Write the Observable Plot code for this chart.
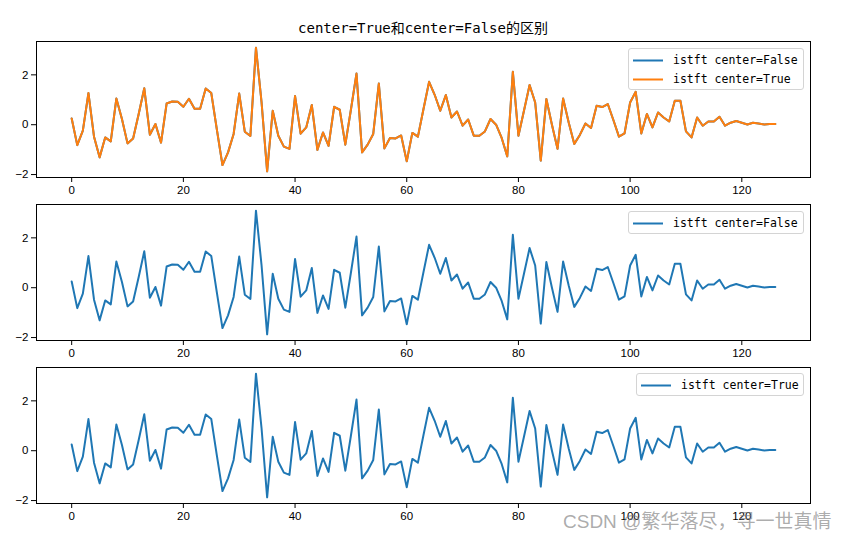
<!DOCTYPE html>
<html>
<head>
<meta charset="utf-8">
<script src="https://cdn.jsdelivr.net/npm/d3@7"></script>
<script src="https://cdn.jsdelivr.net/npm/@observablehq/plot@0.6"></script>
<style>
  body { margin: 0; background: #fff; }
  #fig { position: relative; width: 853px; height: 540px; overflow: hidden; background: #fff; }
  #fig > svg { position: absolute; left: 0; }
  .title { position: absolute; left: 0; width: 846px; top: 17px; text-align: center;
           font-family: "DejaVu Sans Mono", "Noto Sans CJK SC", monospace; font-size: 14px; color: #000; }
  .legend { position: absolute; background: rgba(255,255,255,0.85); border: 1px solid #d4d4d4; border-radius: 3px; box-sizing: border-box; }
  .legend .row { position: absolute; left: 0; height: 19px; width: 100%; }
  .legend .row svg { position: absolute; left: 3px; top: 0; }
  .legend .row span { position: absolute; left: 44px; top: 1px; line-height: 17px; white-space: pre;
           font-family: "DejaVu Sans Mono", monospace; font-size: 11.5px; color: #000; }
  .wm { position: absolute; left: 563px; top: 506px; white-space: pre; font-size: 19px;
        font-family: "Liberation Sans", "Noto Sans CJK SC", sans-serif; color: rgba(125,125,125,0.65); }
</style>
</head>
<body>
<div id="fig"></div>
<script>
// sample index 0..126
const istftCenterFalse = [
  0.25, -0.82, -0.24, 1.27, -0.48, -1.31, -0.51, -0.67, 1.05, 0.23,
  -0.75, -0.55, 0.43, 1.46, -0.40, 0.03, -0.72, 0.85, 0.93, 0.92,
  0.72, 1.04, 0.64, 0.64, 1.45, 1.27, -0.20, -1.62, -1.11, -0.37,
  1.25, -0.28, -0.45, 3.09, 0.90, -1.87, 0.56, -0.44, -0.88, -0.97,
  1.15, -0.36, -0.11, 0.79, -1.01, -0.31, -0.85, 0.72, 0.60, -0.80,
  0.60, 2.05, -1.11, -0.80, -0.37, 1.65, -0.95, -0.53, -0.55, -0.43,
  -1.47, -0.33, -0.48, 0.63, 1.72, 1.20, 0.56, 1.19, 0.29, 0.53,
  -0.04, 0.21, -0.44, -0.44, -0.27, 0.23, 0.00, -0.53, -1.27, 2.12,
  -0.44, 0.57, 1.59, 0.89, -1.44, 1.03, 0.00, -0.97, 1.05, 0.09,
  -0.77, -0.41, 0.05, -0.13, 0.76, 0.71, 0.83, 0.19, -0.48, -0.35,
  0.89, 1.32, -0.35, 0.43, -0.11, 0.49, 0.29, 0.13, 0.96, 0.96,
  -0.27, -0.51, 0.29, -0.04, 0.13, 0.13, 0.32, -0.04, 0.08, 0.15,
  0.08, 0.01, 0.08, 0.05, 0.01, 0.03, 0.03
];
const istftCenterTrue = [
  0.25, -0.82, -0.24, 1.27, -0.48, -1.31, -0.51, -0.67, 1.05, 0.23,
  -0.75, -0.55, 0.43, 1.46, -0.40, 0.03, -0.72, 0.85, 0.93, 0.92,
  0.72, 1.04, 0.64, 0.64, 1.45, 1.27, -0.20, -1.62, -1.11, -0.37,
  1.25, -0.28, -0.45, 3.09, 0.90, -1.87, 0.56, -0.44, -0.88, -0.97,
  1.15, -0.36, -0.11, 0.79, -1.01, -0.31, -0.85, 0.72, 0.60, -0.80,
  0.60, 2.05, -1.11, -0.80, -0.37, 1.65, -0.95, -0.53, -0.55, -0.43,
  -1.47, -0.33, -0.48, 0.63, 1.72, 1.20, 0.56, 1.19, 0.29, 0.53,
  -0.04, 0.21, -0.44, -0.44, -0.27, 0.23, 0.00, -0.53, -1.27, 2.12,
  -0.44, 0.57, 1.59, 0.89, -1.44, 1.03, 0.00, -0.97, 1.05, 0.09,
  -0.77, -0.41, 0.05, -0.13, 0.76, 0.71, 0.83, 0.19, -0.48, -0.35,
  0.89, 1.32, -0.35, 0.43, -0.11, 0.49, 0.29, 0.13, 0.96, 0.96,
  -0.27, -0.51, 0.29, -0.04, 0.13, 0.13, 0.32, -0.04, 0.08, 0.15,
  0.08, 0.01, 0.08, 0.05, 0.01, 0.03, 0.03
];
const xTicks = [0, 20, 40, 60, 80, 100, 120];
const yTicks = [-2, 0, 2];
const titleText = "center=True和center=False的区别";
const labelFalse = "istft center=False";
const labelTrue = "istft center=True";
const watermark = "CSDN @繁华落尽，寻一世真情";

const C0 = "#1f77b4", C1 = "#ff7f0e";
const toRows = arr => arr.map((v, i) => ({n: i, v}));
const rowsFalse = toRows(istftCenterFalse);
const rowsTrue = toRows(istftCenterTrue);
const fmtInt = d => (d < 0 ? "\u2212" : "") + Math.abs(d);

const fig = document.getElementById("fig");

function panel(series, top) {
  const svg = Plot.plot({
    width: 853,
    height: 171,
    marginTop: 10,
    marginBottom: 25,
    marginLeft: 36,
    marginRight: 43,
    style: {fontFamily: "'Liberation Sans', sans-serif", fontSize: "11.5px", color: "#000", background: "transparent", overflow: "visible"},
    x: {domain: [-6.3, 132.3]},
    y: {domain: [-2.118, 3.338]},
    marks: [
      ...series.map(s => Plot.line(s.rows, {x: "n", y: "v", stroke: s.color, strokeWidth: 2})),
      Plot.frame({stroke: "#000", strokeWidth: 1}),
      Plot.axisX({ticks: xTicks, tickFormat: fmtInt, tickSize: 5, tickPadding: 3, label: null}),
      Plot.axisY({ticks: yTicks, tickFormat: fmtInt, tickSize: 5, tickPadding: 3, label: null})
    ]
  });
  svg.style.top = top + "px";
  fig.appendChild(svg);
}

panel([{rows: rowsFalse, color: C0}, {rows: rowsTrue, color: C1}], 31);
panel([{rows: rowsFalse, color: C0}], 194);
panel([{rows: rowsTrue, color: C0}], 357);

const t = document.createElement("div");
t.className = "title";
t.textContent = titleText;
fig.appendChild(t);

function legend(left, top, width, items) {
  const box = document.createElement("div");
  box.className = "legend";
  box.style.left = left + "px";
  box.style.top = top + "px";
  box.style.width = width + "px";
  box.style.height = (items.length * 19 + 4) + "px";
  items.forEach((it, k) => {
    const row = document.createElement("div");
    row.className = "row";
    row.style.top = (2 + k * 19) + "px";
    row.innerHTML = `<svg width="32" height="19"><line x1="1" x2="31" y1="9.5" y2="9.5" stroke="${it.color}" stroke-width="2"/></svg>`;
    const sp = document.createElement("span");
    sp.textContent = it.label;
    row.appendChild(sp);
    box.appendChild(row);
  });
  fig.appendChild(box);
}
legend(628, 48, 176, [{label: labelFalse, color: C0}, {label: labelTrue, color: C1}]);
legend(628, 211, 176, [{label: labelFalse, color: C0}]);
legend(636, 373, 168, [{label: labelTrue, color: C0}]);

const w = document.createElement("div");
w.className = "wm";
w.textContent = watermark;
fig.appendChild(w);
</script>
</body>
</html>
